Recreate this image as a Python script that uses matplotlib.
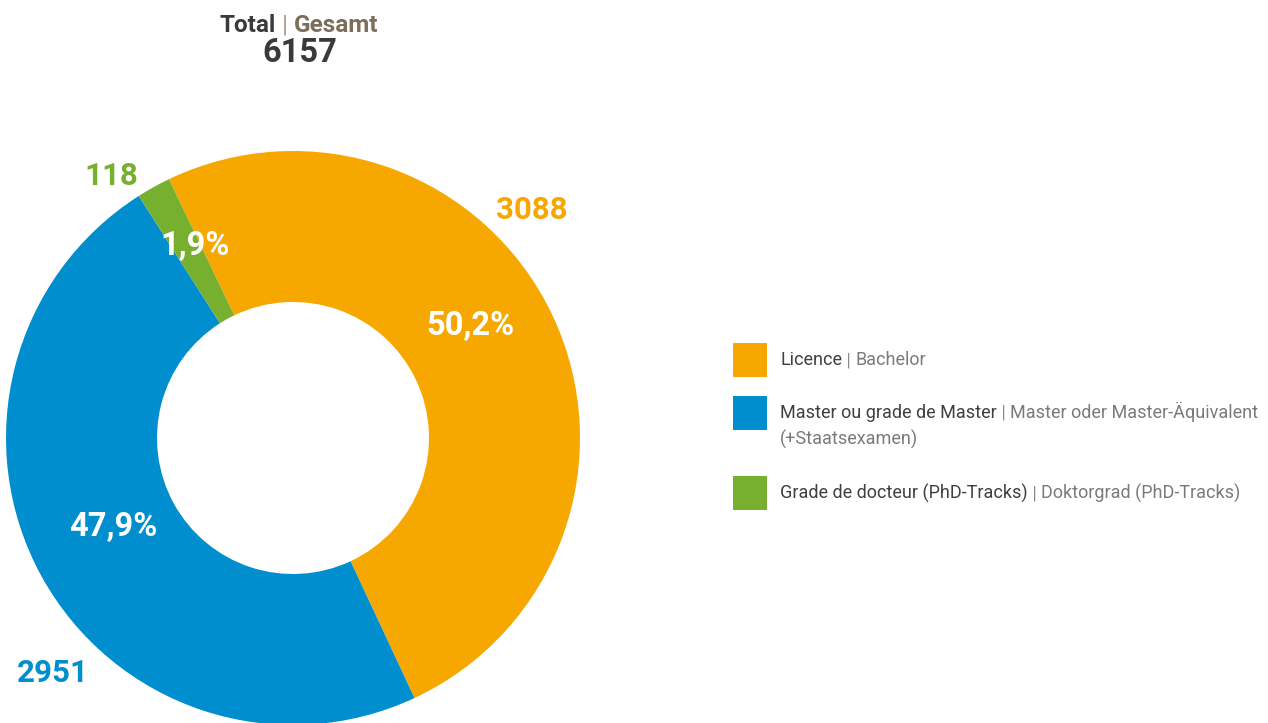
import matplotlib
matplotlib.use("Agg")
import numpy as np
from matplotlib import pyplot as plt
from matplotlib.patches import Rectangle

# data
categories_fr = ["Licence", "Master ou grade de Master", "Grade de docteur (PhD-Tracks)"]
categories_de = ["Bachelor", "Master oder Master-Äquivalent\n(+Staatsexamen)", "Doktorgrad (PhD-Tracks)"]
counts = [3088, 2951, 118]
percent_labels = ["50,2%", "47,9%", "1,9%"]
total = 6157
colors = ["#F7A800", "#008ECE", "#77B02F"]

# label placement (angle in degrees, radius in pie units)
pct_pos = [(32.3, 0.73), (-153.7, 0.70), (117.0, 0.75)]
val_pos = [(43.6, 1.15), (-135.6, 1.17), (124.7, 1.11)]

plt.rcParams["font.family"] = ["Roboto", "DejaVu Sans"]

W, H = 1268, 723
fig = plt.figure(figsize=(W / 100, H / 100), dpi=100)

# donut
cx, cy, R = 293, 438, 287
ax = fig.add_axes([(cx - R) / W, (H - cy - R) / H, 2 * R / W, 2 * R / H])
ax.pie(counts, colors=colors, startangle=115.6, counterclock=False,
       radius=1, wedgeprops=dict(width=1 - 136 / 287, linewidth=0))
ax.set_xlim(-1, 1)
ax.set_ylim(-1, 1)
ax.set_aspect("equal")
ax.axis("off")

for lab, (a, r) in zip(percent_labels, pct_pos):
    t = np.deg2rad(a)
    ax.text(r * np.cos(t), r * np.sin(t), lab, color="white", fontsize=23.5,
            fontweight="bold", ha="center", va="center")
for val, c, (a, r) in zip(counts, colors, val_pos):
    t = np.deg2rad(a)
    ax.text(r * np.cos(t), r * np.sin(t), str(val), color=c, fontsize=22.5,
            fontweight="bold", ha="center", va="center", clip_on=False)

# overlay in pixel coordinates for title and legend
ov = fig.add_axes([0, 0, 1, 1], zorder=-1)
ov.set_xlim(0, W)
ov.set_ylim(H, 0)
ov.axis("off")

t1 = ov.text(220, 25, "Total", color="#3A3A3A", fontsize=17.5, fontweight="bold",
             va="center", ha="left")
t2 = ov.annotate(" | ", xy=(1, 0), xycoords=t1, va="bottom", ha="left",
                 color="#A89B8C", fontsize=17.5)
ov.annotate("Gesamt", xy=(1, 0), xycoords=t2, va="bottom", ha="left",
            color="#7D6E5C", fontsize=17.5, fontweight="bold")
ov.text(300, 53, str(total), color="#3A3A3A", fontsize=23.5, fontweight="bold",
        ha="center", va="center")

row_y = [360, 413, 493]
for fr, de, c, y in zip(categories_fr, categories_de, colors, row_y):
    ov.add_patch(Rectangle((733, y - 17), 34, 34, color=c, lw=0))
    de_lines = de.split("\n")
    a = ov.text(780, y, fr, color="#3F3F3F", fontsize=13, va="center", ha="left")
    b = ov.annotate(" | ", xy=(1, 0), xycoords=a, va="bottom", ha="left",
                    color="#8A8A8A", fontsize=13)
    ov.annotate(de_lines[0], xy=(1, 0), xycoords=b, va="bottom", ha="left",
                color="#7A7A7A", fontsize=13)
    if len(de_lines) > 1:
        ov.text(780, y + 26, de_lines[1], color="#7A7A7A", fontsize=13,
                va="center", ha="left")

fig.savefig("out.png", dpi=100)
